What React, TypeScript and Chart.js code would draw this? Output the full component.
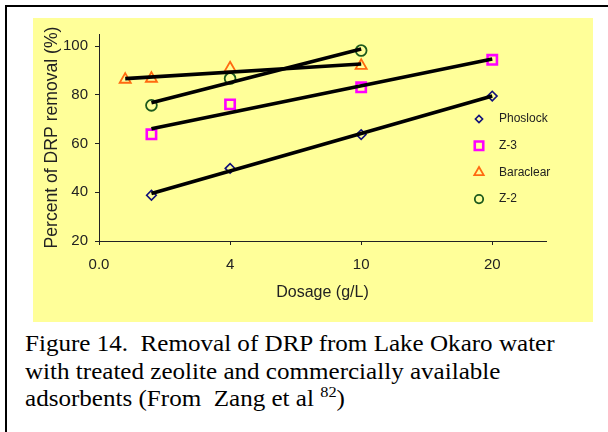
import React, { useEffect, useRef } from "react";
import { Chart, registerables } from "chart.js";
import { drawPoint } from "chart.js/helpers";

Chart.register(...registerables);

// ---- data ----
const xTickValues = [0, 1, 2, 3];
const xTickLabels = ["0.0", "4", "10", "20"];
const yTickValues = [20, 40, 60, 80, 100];

const seriesNames = ["Phoslock", "Z-3", "Baraclear", "Z-2"];

const phoslockX = [0.4, 1, 2, 3];
const phoslockY = [38.8, 49.8, 63.7, 79.5];

const z3X = [0.4, 1, 2, 3];
const z3Y = [63.8, 76.1, 83.1, 94.4];

const baraclearX = [0.2, 0.4, 1, 2];
const baraclearY = [86.3, 86.7, 91.0, 92.0];

const z2X = [0.4, 1, 2];
const z2Y = [75.7, 86.7, 98.2];

const captionLines = [
  "Figure 14.  Removal of DRP from Lake Okaro water",
  "with treated zeolite and commercially available",
  "adsorbents (From  Zang et al ",
];
const captionRef = "82";

// ---- helpers ----
function pts(xs: number[], ys: number[]) {
  return xs.map((x, i) => ({ x, y: ys[i] }));
}
function trend(xs: number[], ys: number[]) {
  const n = xs.length;
  const mx = xs.reduce((a, b) => a + b, 0) / n;
  const my = ys.reduce((a, b) => a + b, 0) / n;
  let sxy = 0, sxx = 0;
  for (let i = 0; i < n; i++) {
    sxy += (xs[i] - mx) * (ys[i] - my);
    sxx += (xs[i] - mx) * (xs[i] - mx);
  }
  const b = sxy / sxx;
  const a = my - b * mx;
  const x0 = Math.min(...xs), x1 = Math.max(...xs);
  return [{ x: x0, y: a + b * x0 }, { x: x1, y: a + b * x1 }];
}

const FONT = "'Liberation Sans', Arial, sans-serif";

const markerStyles = [
  { color: "#10107a", style: "rectRot", r: 4.8, lr: 3.6, bw: 1.6 },
  { color: "#ff00ff", style: "rect", r: 6.6, lr: 6.0, bw: 2.6 },
  { color: "#ff6a10", style: "triangle", r: 6.4, lr: 5.4, bw: 1.8 },
  { color: "#1d5a1d", style: "circle", r: 5.4, lr: 4.2, bw: 1.8 },
];

const legendPlugin = {
  id: "customLegend",
  afterDatasetsDraw(chart: any) {
    const ctx = chart.ctx;
    const area = chart.chartArea;
    const mx = area.right - 67;
    const tx = area.right - 47;
    const y0 = area.top + 85;
    const gap = 26.7;
    ctx.save();
    seriesNames.forEach((name, i) => {
      const m = markerStyles[i];
      const y = y0 + i * gap;
      ctx.strokeStyle = m.color;
      ctx.fillStyle = "rgba(0,0,0,0)";
      ctx.lineWidth = m.bw;
      drawPoint(ctx, { pointStyle: m.style, radius: m.lr, rotation: 0, borderWidth: m.bw }, mx, y);
      ctx.fillStyle = "#222";
      ctx.font = `12px ${FONT}`;
      ctx.textAlign = "left";
      ctx.textBaseline = "middle";
      ctx.fillText(name, tx, y);
    });
    ctx.restore();
  },
};

export default function App() {
  const ref = useRef<HTMLCanvasElement>(null);

  useEffect(() => {
    if (!ref.current) return;
    const xsList = [phoslockX, z3X, baraclearX, z2X];
    const ysList = [phoslockY, z3Y, baraclearY, z2Y];

    const trendSets = xsList.map((xs, i) => ({
      label: seriesNames[i] + " trend",
      data: trend(xs, ysList[i]),
      showLine: true,
      borderColor: "#000",
      borderWidth: 3.6,
      pointRadius: 0,
      fill: false,
    }));
    const markerSets = xsList.map((xs, i) => ({
      label: seriesNames[i],
      data: pts(xs, ysList[i]),
      showLine: false,
      pointStyle: markerStyles[i].style,
      pointRadius: markerStyles[i].r,
      pointBorderColor: markerStyles[i].color,
      pointBackgroundColor: "rgba(0,0,0,0)",
      pointBorderWidth: markerStyles[i].bw,
      borderColor: markerStyles[i].color,
    }));

    const chart = new Chart(ref.current, {
      type: "scatter",
      data: { datasets: [...trendSets, ...markerSets] as any },
      options: {
        animation: false,
        responsive: false,
        maintainAspectRatio: false,
        layout: { padding: { top: 14, right: 47, left: 0, bottom: 0 } },
        plugins: { legend: { display: false }, tooltip: { enabled: false } },
        scales: {
          x: {
            type: "linear",
            min: 0,
            max: 3.41,
            offset: false,
            afterBuildTicks: (s: any) => {
              s.ticks = xTickValues.map((v) => ({ value: v }));
            },
            afterFit: (s: any) => {
              s.height = 81;
            },
            border: { display: true, color: "#222", width: 1 },
            grid: { drawOnChartArea: false, drawTicks: true, tickLength: 4, color: "#222" },
            ticks: {
              padding: 11,
              color: "#222",
              font: { size: 15, family: FONT },
              maxRotation: 0,
              autoSkip: false,
              callback: (_v: any, i: number) => xTickLabels[i],
            },
            title: {
              display: true,
              text: "Dosage (g/L)",
              color: "#222",
              font: { size: 16, family: FONT },
              padding: { top: 0, bottom: 20 },
            },
          },
          y: {
            type: "linear",
            min: 20,
            max: 105,
            afterBuildTicks: (s: any) => {
              s.ticks = yTickValues.map((v) => ({ value: v }));
            },
            afterFit: (s: any) => {
              s.width = 66;
            },
            border: { display: true, color: "#222", width: 1 },
            grid: { drawOnChartArea: false, drawTicks: true, tickLength: 4, color: "#222" },
            ticks: {
              padding: 7,
              color: "#222",
              font: { size: 15, family: FONT },
            },
            title: {
              display: true,
              text: "Percent of DRP removal (%)",
              color: "#222",
              font: { size: 17.6, family: FONT },
              padding: { top: 9, bottom: 0 },
            },
          },
        },
      },
      plugins: [legendPlugin],
    });
    return () => chart.destroy();
  }, []);

  return (
    <div
      style={{
        position: "fixed",
        left: 0,
        top: 0,
        width: 608,
        height: 432,
        background: "#fff",
        overflow: "hidden",
      }}
    >
      <div
        style={{
          position: "absolute",
          left: 5,
          top: 5,
          width: 620,
          height: 440,
          borderTop: "2px solid #000",
          borderLeft: "2px solid #000",
        }}
      />
      <div
        style={{
          position: "absolute",
          left: 33,
          top: 18,
          width: 560,
          height: 304,
          background: "#ffff99",
        }}
      >
        <canvas ref={ref} width={560} height={304} style={{ display: "block", width: 560, height: 304 }} />
      </div>
      <div
        style={{
          position: "absolute",
          left: 25,
          top: 330,
          fontFamily: "'Liberation Serif', 'Times New Roman', serif",
          fontSize: 23,
          lineHeight: "27.5px",
          color: "#000",
          whiteSpace: "pre",
          transform: "scaleX(1.09)",
          transformOrigin: "0 0",
        }}
      >
        <div>{captionLines[0]}</div>
        <div>{captionLines[1]}</div>
        <div>
          {captionLines[2]}
          <sup style={{ fontSize: 15, verticalAlign: "baseline", position: "relative", top: -9 }}>{captionRef}</sup>)
        </div>
      </div>
    </div>
  );
}
